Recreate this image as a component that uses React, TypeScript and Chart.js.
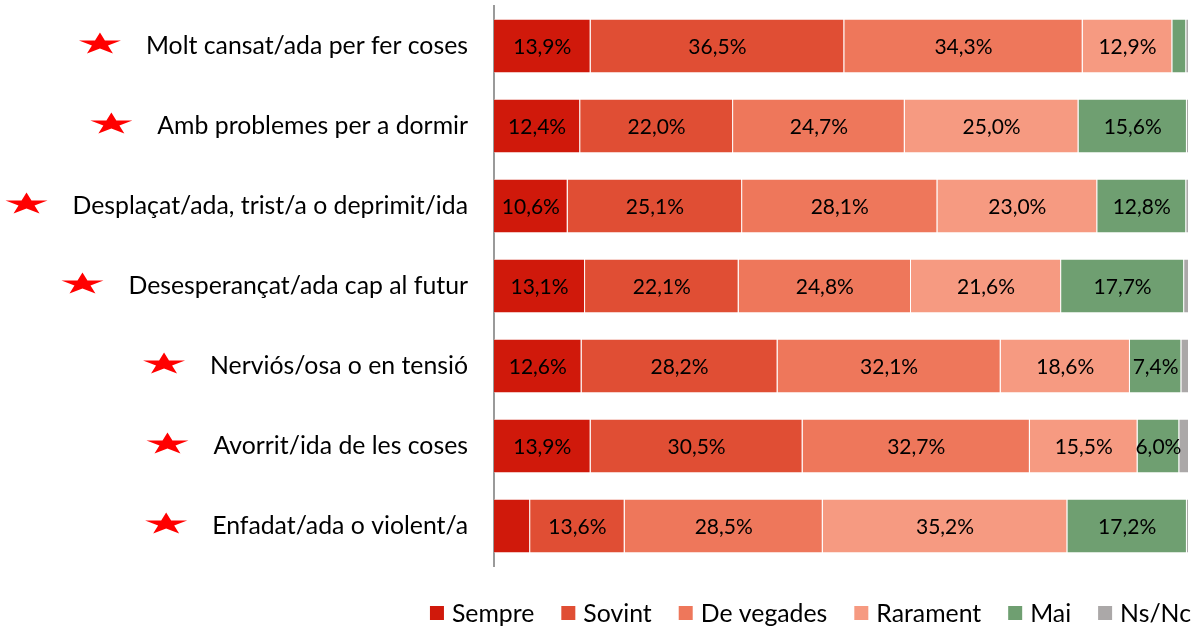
import React, { useEffect, useRef } from 'react';
import { Chart, registerables } from 'chart.js';

Chart.register(...registerables);

const categories = [
  'Molt cansat/ada per fer coses',
  'Amb problemes per a dormir',
  'Desplaçat/ada, trist/a o deprimit/ida',
  'Desesperançat/ada cap al futur',
  'Nerviós/osa o en tensió',
  'Avorrit/ida de les coses',
  'Enfadat/ada o violent/a',
];

const seriesNames = ['Sempre', 'Sovint', 'De vegades', 'Rarament', 'Mai', 'Ns/Nc'];
const sempre = [13.9, 12.4, 10.6, 13.1, 12.6, 13.9, 5.2];
const sovint = [36.5, 22.0, 25.1, 22.1, 28.2, 30.5, 13.6];
const deVegades = [34.3, 24.7, 28.1, 24.8, 32.1, 32.7, 28.5];
const rarament = [12.9, 25.0, 23.0, 21.6, 18.6, 15.5, 35.2];
const mai = [2.0, 15.6, 12.8, 17.7, 7.4, 6.0, 17.2];
const nsNc = [0.4, 0.3, 0.4, 0.7, 1.1, 1.4, 0.3];

const seriesValues = [sempre, sovint, deVegades, rarament, mai, nsNc];
const colors = ['#D0190B', '#E04E34', '#EE775B', '#F69A81', '#6F9F71', '#ABA8A8'];

const FONT = 'Lato';
const LABEL_SIZE = 24.8;
const TICK_PADDING = 26;

function drawStar(ctx: CanvasRenderingContext2D, cx: number, cy: number, w: number, h: number) {
  ctx.beginPath();
  for (let i = 0; i < 10; i++) {
    const r = i % 2 === 0 ? 1 : 0.382;
    const a = -Math.PI / 2 + (i * Math.PI) / 5;
    const x = cx + (Math.cos(a) * r * w) / 1.902;
    const y = cy + ((Math.sin(a) * r + 0.0955) * h) / 1.809;
    if (i === 0) ctx.moveTo(x, y);
    else ctx.lineTo(x, y);
  }
  ctx.closePath();
  ctx.fillStyle = '#FF0000';
  ctx.fill();
}

const decorPlugin = {
  id: 'decor',
  afterDatasetsDraw(chart: any) {
    const ctx: CanvasRenderingContext2D = chart.ctx;
    ctx.save();
    ctx.font = `21px ${FONT}`;
    ctx.fillStyle = '#000';
    ctx.textAlign = 'center';
    ctx.textBaseline = 'middle';
    chart.data.datasets.forEach((ds: any, di: number) => {
      const meta = chart.getDatasetMeta(di);
      meta.data.forEach((el: any, i: number) => {
        const v = ds.data[i];
        if (v < 5.5) return;
        const x = (el.x + el.base) / 2;
        ctx.fillText(v.toFixed(1).replace('.', ',') + '%', x, el.y + 1);
      });
    });
    ctx.restore();
  },
  afterDraw(chart: any) {
    const ctx: CanvasRenderingContext2D = chart.ctx;
    const yScale = chart.scales.y;
    const area = chart.chartArea;
    ctx.save();
    ctx.font = `${LABEL_SIZE}px ${FONT}`;
    categories.forEach((label, i) => {
      const y = yScale.getPixelForValue(i);
      const w = ctx.measureText(label).width;
      const labelLeft = area.left - TICK_PADDING - w;
      drawStar(ctx, labelLeft - 46, y - 3, 42, 21);
    });
    ctx.font = `${LABEL_SIZE}px ${FONT}`;
    ctx.textBaseline = 'middle';
    ctx.textAlign = 'left';
    const box = 14;
    const gap = 8;
    const itemGap = 27;
    const widths = seriesNames.map((n) => ctx.measureText(n).width);
    const total = widths.reduce((s, w) => s + box + gap + w, 0) + itemGap * (seriesNames.length - 1);
    let x = 1191 - total;
    const ly = 613;
    seriesNames.forEach((n, i) => {
      ctx.fillStyle = colors[i];
      ctx.fillRect(x, ly - box / 2, box, box);
      ctx.fillStyle = '#000';
      ctx.fillText(n, x + box + gap, ly + 1);
      x += box + gap + widths[i] + itemGap;
    });
    ctx.restore();
  },
};

export default function App() {
  const ref = useRef<HTMLCanvasElement>(null);
  useEffect(() => {
    document.body.style.margin = '0';
    const canvas = ref.current!;
    const chart = new Chart(canvas, {
      type: 'bar',
      data: {
        labels: categories,
        datasets: seriesNames.map((name, i) => ({
          label: name,
          data: seriesValues[i],
          backgroundColor: colors[i],
          borderColor: 'rgba(255,255,255,0.55)',
          borderWidth: 1,
          categoryPercentage: 0.68,
          barPercentage: 1,
        })),
      },
      options: {
        indexAxis: 'y',
        responsive: false,
        animation: false,
        layout: { padding: { left: 0, top: 6, right: 4, bottom: 60 } },
        plugins: {
          legend: { display: false },
          tooltip: { enabled: false },
        },
        scales: {
          x: {
            stacked: true,
            min: 0,
            max: 100,
            display: false,
          },
          y: {
            stacked: true,
            grid: { display: false, drawTicks: false },
            border: { display: true, color: '#9A9A9A', width: 2 },
            ticks: {
              padding: TICK_PADDING,
              color: '#000',
              font: { family: FONT, size: LABEL_SIZE },
            },
            afterFit: (scale: any) => {
              scale.width = 494;
              scale.paddingTop = 0;
              scale.paddingBottom = 0;
            },
          },
        },
      },
      plugins: [decorPlugin],
    });
    return () => chart.destroy();
  }, []);
  return <canvas ref={ref} width={1193} height={626} style={{ display: 'block' }} />;
}
